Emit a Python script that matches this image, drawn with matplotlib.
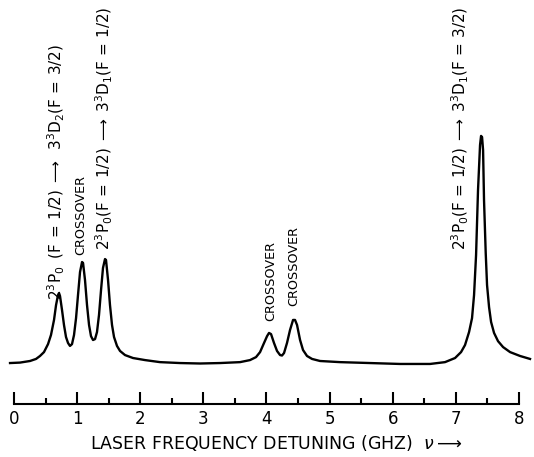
import matplotlib
matplotlib.use("Agg")
import matplotlib.pyplot as plt
from matplotlib.ticker import MultipleLocator

# Laser frequency detuning (GHz) and signal (arbitrary units, big peak = 100)
freq_ghz = [-0.063, 0.095, 0.254, 0.349, 0.412, 0.475, 0.539, 0.586, 0.634, 0.666,
            0.697, 0.713, 0.729, 0.761, 0.792, 0.824, 0.856, 0.887, 0.919, 0.951,
            0.983, 1.014, 1.046, 1.078, 1.094, 1.125, 1.157, 1.189, 1.220, 1.252,
            1.284, 1.315, 1.347, 1.379, 1.410, 1.442, 1.458, 1.490, 1.521, 1.553,
            1.585, 1.632, 1.680, 1.759, 1.886, 2.076, 2.314, 2.631, 2.948, 3.265,
            3.582, 3.740, 3.835, 3.899, 3.962, 4.010, 4.041, 4.073, 4.120, 4.168,
            4.216, 4.247, 4.279, 4.326, 4.374, 4.422, 4.453, 4.485, 4.533, 4.580,
            4.643, 4.723, 4.849, 5.166, 5.642, 6.117, 6.593, 6.830, 6.989, 7.084,
            7.147, 7.211, 7.258, 7.290, 7.322, 7.353, 7.385, 7.401, 7.417, 7.433,
            7.448, 7.475, 7.496, 7.528, 7.560, 7.607, 7.670, 7.750, 7.861, 8.019,
            8.177]
signal = [0.0, 0.2, 0.9, 1.8, 3.1, 4.8, 8.3, 12.3, 18.9, 25.4,
          29.8, 30.7, 29.4, 23.2, 16.7, 11.4, 8.8, 7.5, 8.3, 12.3,
          19.7, 29.8, 39.9, 44.3, 43.9, 36.4, 25.4, 16.7, 11.8, 10.1,
          10.5, 13.6, 21.1, 32.0, 41.7, 45.6, 45.2, 36.4, 25.4, 16.7,
          11.4, 7.5, 5.3, 3.5, 2.2, 1.3, 0.4, 0.0, -0.2, 0.0,
          0.4, 1.3, 2.6, 4.8, 8.8, 11.8, 13.2, 12.7, 8.8, 5.3,
          3.5, 3.3, 4.4, 8.8, 14.5, 18.9, 18.9, 16.7, 10.1, 5.7,
          3.1, 1.8, 0.9, 0.4, 0.0, -0.4, -0.4, 0.4, 2.2, 4.8,
          7.9, 13.6, 19.7, 29.8, 47.4, 75.9, 95.6, 99.6, 99.1, 93.4,
          71.5, 48.2, 34.2, 24.5, 18.0, 13.2, 9.6, 7.0, 4.8, 3.1,
          1.8]

tick_values = [0, 1, 2, 3, 4, 5, 6, 7, 8]
tick_labels = ["0", "1", "2", "3", "4", "5", "6", "7", "8"]

peak_labels = [
    r"$2^{3}\mathrm{P}_{0}\;\;(\mathrm{F}\,=\,1/2)\;\longrightarrow\;\;3^{3}\mathrm{D}_{2}(\mathrm{F}\,=\,3/2)$",
    "CROSSOVER",
    r"$2^{3}\mathrm{P}_{0}(\mathrm{F}\,=\,1/2)\;\longrightarrow\;3^{3}\mathrm{D}_{1}(\mathrm{F}\,=\,1/2)$",
    "CROSSOVER",
    "CROSSOVER",
    r"$2^{3}\mathrm{P}_{0}(\mathrm{F}\,=\,1/2)\;\longrightarrow\;3^{3}\mathrm{D}_{1}(\mathrm{F}\,=\,3/2)$",
]
label_x = [0.68, 1.06, 1.44, 4.07, 4.44, 7.07]
label_y = [27.6, 47.4, 49.6, 18.4, 25.0, 49.6]
label_size = [11, 9.2, 11, 9.2, 9.2, 11]

fig = plt.figure(figsize=(5.34, 4.57), dpi=100)
ax = fig.add_axes([0, 0, 1, 1])
ax.plot(freq_ghz, signal, color="black", lw=1.7)

ax.set_xlim(-0.222, 8.24)
ax.set_ylim(-41.2, 159.2)

for s in ["top", "left", "right"]:
    ax.spines[s].set_visible(False)
ax.spines["bottom"].set_position(("data", -18.0))
ax.spines["bottom"].set_bounds(0, 8)
ax.spines["bottom"].set_linewidth(1.5)
ax.set_yticks([])
ax.set_xticks(tick_values)
ax.set_xticklabels(tick_labels, fontsize=12)
ax.xaxis.set_minor_locator(MultipleLocator(0.5))
ax.tick_params(axis="x", which="major", direction="in", length=9, width=1.5, pad=4)
ax.tick_params(axis="x", which="minor", direction="in", length=4.5, width=1.5)

fig.text(0.517, 0.031, r"LASER FREQUENCY DETUNING (GHZ)  $\nu\longrightarrow$",
         fontsize=12.5, ha="center", va="center")

for txt, x, y, fs in zip(peak_labels, label_x, label_y, label_size):
    ax.text(x, y, txt, rotation=90, ha="center", va="bottom", fontsize=fs)

fig.savefig("out.png", dpi=100)
